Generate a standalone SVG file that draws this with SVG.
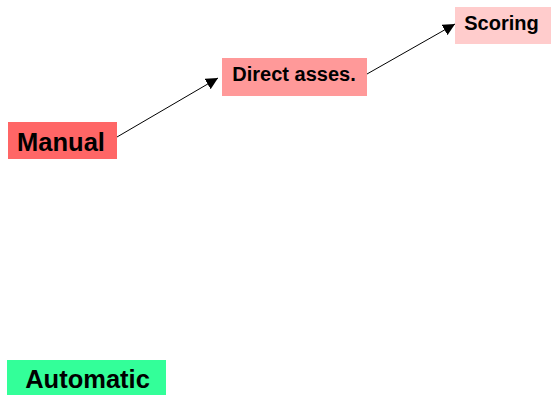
<svg xmlns="http://www.w3.org/2000/svg" width="552" height="395" viewBox="0 0 552 395">
  <style>
    text { font-family: "Liberation Sans", Arial, sans-serif; font-weight: bold; fill: #000; text-anchor: middle; }
    .big { font-size: 25.5px; }
    .small { font-size: 20px; }
    .edge { stroke: #000; stroke-width: 1; fill: none; marker-end: url(#arrow); }
  </style>
  <defs>
    <marker id="arrow" viewBox="0 0 10 10" refX="10" refY="5" markerWidth="12" markerHeight="12" markerUnits="userSpaceOnUse" orient="auto">
      <path d="M0,0 L10,5 L0,10 z" fill="#000"/>
    </marker>
  </defs>
  <rect width="552" height="395" fill="#fff"/>
  <g id="connectors">
    <line class="edge" x1="117" y1="137" x2="218" y2="78"/>
    <line class="edge" x1="367" y1="74" x2="455" y2="24"/>
  </g>
  <g id="manual">
    <rect x="8" y="122" width="109" height="37" fill="#ff6666"/>
    <text class="big" x="61" y="150.5">Manual</text>
  </g>
  <g id="direct">
    <rect x="222" y="58" width="145" height="38" fill="#ff9999"/>
    <text class="small" x="294" y="80.5">Direct asses.</text>
  </g>
  <g id="scoring">
    <rect x="455" y="7" width="96" height="37" fill="#ffcccc"/>
    <text class="small" x="501.5" y="30">Scoring</text>
  </g>
  <g id="automatic">
    <rect x="7" y="360" width="159" height="35" fill="#33ff99"/>
    <text class="big" x="87.5" y="388">Automatic</text>
  </g>
</svg>
